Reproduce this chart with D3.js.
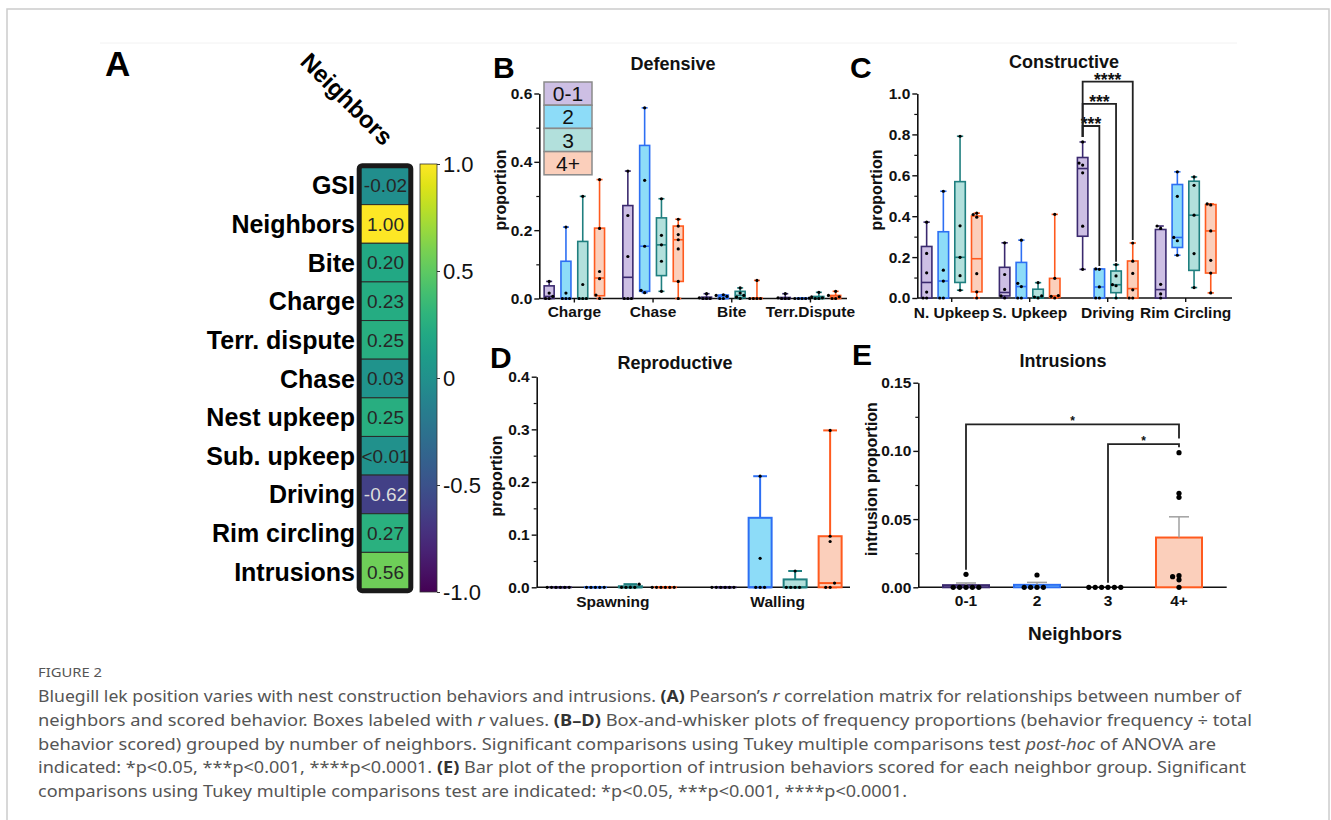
<!DOCTYPE html>
<html>
<head>
<meta charset="utf-8">
<script src="https://cdn.jsdelivr.net/npm/d3@7"></script>
<style>
  body { margin: 0; background: #fff; }
  svg text { font-family: "Liberation Sans", Arial, sans-serif; }
  svg text.cap { font-family: "Noto Sans", "Open Sans", sans-serif; }
</style>
</head>
<body>
<svg id="fig" width="1331" height="820"></svg>
<script>
// ---------- data ----------
var groupNames = ["0-1", "2", "3", "4+"];

var heatLabels = ["GSI", "Neighbors", "Bite", "Charge", "Terr. dispute", "Chase",
  "Nest upkeep", "Sub. upkeep", "Driving", "Rim circling", "Intrusions"];
var heatValues = [-0.02, 1.00, 0.20, 0.23, 0.25, 0.03, 0.25, 0.005, -0.62, 0.27, 0.56];
var heatText = ["-0.02", "1.00", "0.20", "0.23", "0.25", "0.03", "0.25", "<0.01", "-0.62", "0.27", "0.56"];
var cbTicks = [1, 0.5, 0, -0.5, -1];

// box stats per category and group: [min, q1, median, q3, max]
var defCats = ["Charge", "Chase", "Bite", "Terr.Dispute"];
var defStats = [
  [[0, 0, 0.006, 0.037, 0.05], [0, 0, 0, 0.109, 0.209], [0, 0, 0, 0.167, 0.299], [0, 0.008, 0.06, 0.206, 0.348]],
  [[0, 0, 0.062, 0.272, 0.373], [0.017, 0.021, 0.153, 0.448, 0.558], [0.021, 0.067, 0.157, 0.236, 0.292], [0, 0.05, 0.172, 0.212, 0.232]],
  [[0, 0, 0, 0.004, 0.014], [0, 0, 0.006, 0.01, 0.011], [0, 0.002, 0.009, 0.021, 0.031], [0, 0, 0, 0.002, 0.053]],
  [[0, 0, 0, 0.003, 0.014], [0, 0, 0, 0.001, 0.001], [0, 0, 0.002, 0.006, 0.018], [0, 0, 0.004, 0.009, 0.021]]
];
var defPoints = [
  [[0, 0, 0.006, 0.016, 0.05], [0, 0, 0, 0.016, 0.209], [0, 0, 0, 0.041, 0.299], [0, 0.01, 0.058, 0.079, 0.205, 0.348]],
  [[0, 0, 0, 0.123, 0.243, 0.373], [0.017, 0.024, 0.153, 0.346, 0.558], [0.021, 0.109, 0.157, 0.185, 0.292], [0, 0.05, 0.145, 0.172, 0.187, 0.212, 0.232]],
  [[0, 0, 0, 0.002, 0.014], [0, 0, 0.006, 0.009, 0.011], [0, 0.004, 0.009, 0.016, 0.031], [0, 0, 0, 0, 0.053]],
  [[0, 0, 0, 0.002, 0.014], [0, 0, 0, 0, 0.001], [0, 0, 0.002, 0.005, 0.018], [0, 0, 0.005, 0.009, 0.021]]
];

var conCats = ["N. Upkeep", "S. Upkeep", "Driving", "Rim Circling"];
var conStats = [
  [[0, 0, 0.076, 0.252, 0.371], [0, 0, 0.083, 0.324, 0.522], [0.038, 0.076, 0.199, 0.569, 0.791], [0, 0.03, 0.192, 0.401, 0.415]],
  [[0, 0.01, 0.027, 0.15, 0.27], [0, 0, 0.056, 0.174, 0.283], [0, 0, 0.005, 0.043, 0.075], [0, 0.003, 0.01, 0.096, 0.409]],
  [[0.14, 0.302, 0.633, 0.687, 0.763], [0, 0, 0.054, 0.142, 0.142], [0, 0.026, 0.065, 0.132, 0.163], [0, 0, 0.046, 0.181, 0.269]],
  [[0, 0, 0.041, 0.335, 0.352], [0.209, 0.247, 0.296, 0.555, 0.617], [0.051, 0.135, 0.405, 0.571, 0.592], [0.025, 0.122, 0.328, 0.457, 0.46]]
];
var conPoints = [
  [[0, 0, 0.029, 0.123, 0.218, 0.371], [0, 0, 0.083, 0.136, 0.522], [0.038, 0.109, 0.199, 0.353, 0.791], [0, 0.03, 0.119, 0.395, 0.408, 0.415]],
  [[0, 0.01, 0.042, 0.115, 0.27], [0, 0, 0.056, 0.072, 0.283], [0, 0.005, 0.01, 0.075], [0, 0.008, 0.012, 0.096, 0.409]],
  [[0.14, 0.351, 0.612, 0.65, 0.66, 0.763], [0, 0, 0.054, 0.14, 0.142], [0, 0.06, 0.065, 0.108, 0.163], [0, 0, 0.04, 0.12, 0.18, 0.269]],
  [[0, 0.02, 0.067, 0.34, 0.352], [0.209, 0.28, 0.296, 0.497, 0.617], [0.051, 0.217, 0.405, 0.551, 0.592], [0.025, 0.122, 0.184, 0.328, 0.455, 0.46]]
];
// Tukey comparisons drawn in C: category, group vs 0-1, label, bracket height
var conSig = [
  { cat: "Driving", grp: "2", label: "***", h: 0.841 },
  { cat: "Driving", grp: "3", label: "***", h: 0.949 },
  { cat: "Driving", grp: "4+", label: "****", h: 1.058 }
];

var repCats = ["Spawning", "Walling"];
var repStats = [
  [[0, 0, 0, 0, 0], [0, 0, 0, 0, 0], [0, 0, 0, 0.002, 0.006], [0, 0, 0, 0, 0]],
  [[0, 0, 0, 0, 0], [0, 0, 0, 0.132, 0.211], [0, 0, 0, 0.015, 0.031], [0, 0, 0.008, 0.097, 0.298]]
];
var repPoints = [
  [[0, 0, 0, 0, 0, 0], [0, 0, 0, 0, 0], [0, 0, 0, 0, 0.006], [0, 0, 0, 0, 0, 0]],
  [[0, 0, 0, 0, 0, 0], [0, 0, 0, 0.055, 0.211], [0, 0, 0, 0, 0.031], [0, 0, 0.008, 0.087, 0.097, 0.298]]
];

var intPoints = [
  [0.0095, 0, 0, 0, 0, 0],
  [0.009, 0, 0, 0, 0],
  [0, 0, 0, 0, 0, 0],
  [0.0987, 0.0689, 0.066, 0.0085, 0.0078, 0.0055, 0]
];
// left group, right group, label, bracket height, right leg end
var intSig = [
  { a: "0-1", b: "4+", label: "*", h: 0.1195, end: 0.109 },
  { a: "3", b: "4+", label: "*", h: 0.105, end: 0.1026 }
];

var fills = ["#cdbfe4", "#8ddcf8", "#b2e0dc", "#fbcfbb"];
var strokes = ["#3b2a6f", "#2d6ff3", "#1f7f7f", "#ff5a1e"];

var svg = d3.select("#fig");

// page frame
svg.append("rect").attr("x", 7).attr("y", 9).attr("width", 1322).attr("height", 840)
  .attr("fill", "none").attr("stroke", "#cccccc").attr("stroke-width", 1.5);
svg.append("line").attr("x1", 100).attr("x2", 1237).attr("y1", 43).attr("y2", 43)
  .attr("stroke", "#f2f2f2").attr("stroke-width", 1);

function panelLetter(t, x, y, fs) {
  svg.append("text").attr("x", x).attr("y", y).text(t)
    .style("font-size", fs + "px").style("font-weight", "bold").attr("fill", "#000");
}
function title(t, x, y) {
  svg.append("text").attr("x", x).attr("y", y).attr("text-anchor", "middle").text(t)
    .style("font-size", "18px").style("font-weight", "bold").attr("fill", "#111");
}
function yLabel(t, x, y) {
  svg.append("text").attr("transform", "translate(" + x + "," + y + ") rotate(-90)")
    .attr("text-anchor", "middle").text(t)
    .style("font-size", "16px").style("font-weight", "bold").attr("fill", "#111");
}

// ---------- A: correlation column ----------
var rowY = d3.scaleBand().domain(heatLabels).range([166, 591]);
var vir = d3.scaleSequential(d3.interpolateViridis).domain([-1, 1]);
var gA = svg.append("g");

gA.selectAll("rect.cell").data(heatValues).enter().append("rect")
  .attr("class", "cell")
  .attr("x", 359).attr("width", 52)
  .attr("y", function (d, i) { return rowY(heatLabels[i]); })
  .attr("height", rowY.bandwidth())
  .attr("fill", function (d) { return vir(d); })
  .attr("stroke", "#2a2a2a").attr("stroke-width", 1);

gA.append("rect").attr("x", 359.2).attr("y", 165.7).attr("width", 51.6).attr("height", 425)
  .attr("rx", 3).attr("fill", "none").attr("stroke", "#1a1a1a").attr("stroke-width", 5);

gA.selectAll("text.val").data(heatText).enter().append("text")
  .attr("class", "val")
  .attr("x", 385.5)
  .attr("y", function (d, i) { return rowY(heatLabels[i]) + rowY.bandwidth() / 2; })
  .attr("dy", "0.36em").attr("text-anchor", "middle")
  .style("font-size", "19px")
  .attr("fill", function (d, i) { return heatValues[i] < -0.4 ? "#dcdcdc" : "#262626"; })
  .text(function (d) { return d; });

gA.selectAll("text.row").data(heatLabels).enter().append("text")
  .attr("class", "row")
  .attr("x", 355)
  .attr("y", function (d) { return rowY(d) + rowY.bandwidth() / 2; })
  .attr("dy", "0.36em").attr("text-anchor", "end")
  .style("font-size", "25px").style("font-weight", "bold").attr("fill", "#000")
  .text(function (d) { return d; });

gA.append("text").attr("transform", "translate(347,99) rotate(45)")
  .attr("text-anchor", "middle").attr("dy", "0.35em")
  .style("font-size", "24px").style("font-weight", "bold").attr("fill", "#000")
  .text("Neighbors");

// colour bar
var grad = svg.append("defs").append("linearGradient").attr("id", "vgrad")
  .attr("x1", 0).attr("x2", 0).attr("y1", 1).attr("y2", 0);
grad.selectAll("stop").data(d3.range(0, 1.0001, 0.05)).enter().append("stop")
  .attr("offset", function (d) { return d; })
  .attr("stop-color", function (d) { return d3.interpolateViridis(d); });
var cbY = d3.scaleLinear().domain([-1, 1]).range([592, 164]);
gA.append("rect").attr("x", 420).attr("y", cbY(1)).attr("width", 17).attr("height", cbY(-1) - cbY(1))
  .attr("fill", "url(#vgrad)").attr("stroke", "#333").attr("stroke-width", 0.8);
var cbAx = gA.append("g").attr("transform", "translate(437,0)")
  .call(d3.axisRight(cbY).tickValues(cbTicks).tickSize(3).tickPadding(3)
    .tickFormat(function (d) { return d === 0 ? "0" : d3.format(".1f")(d).replace("\u2212", "-"); }));
cbAx.select(".domain").remove();
cbAx.selectAll(".tick line").attr("stroke", "#333");
cbAx.selectAll(".tick text").style("font-size", "22px").attr("fill", "#111");

panelLetter("A", 105, 76, 35);

// ---------- shared helpers ----------
// step = horizontal spacing of tied dots, near = vertical distance under which dots count as tied
function swarm(vals, y, step, near) {
  var placed = [];
  var offs = [0];
  for (var j = 1; j < 12; j++) offs.push(-j * step, j * step);
  return vals.slice().sort(d3.ascending).map(function (v) {
    var py = y(v), off = 0;
    for (var i = 0; i < offs.length; i++) {
      off = offs[i];
      var hit = placed.some(function (p) {
        return Math.abs(p.py - py) < near && Math.abs(p.dx - off) < step - 0.01;
      });
      if (!hit) break;
    }
    placed.push({ dx: off, py: py });
    return { dx: off, py: py };
  });
}

function yAxis(g, y, x0, majors, minors, fmt) {
  var ax = g.append("g").attr("transform", "translate(" + x0 + ",0)")
    .call(d3.axisLeft(y).tickValues(majors).tickSize(5).tickPadding(2).tickSizeOuter(0).tickFormat(fmt));
  ax.select(".domain").attr("stroke", "#111").attr("stroke-width", 1.6);
  ax.selectAll(".tick line").attr("stroke", "#111").attr("stroke-width", 1.4);
  ax.selectAll(".tick text").attr("fill", "#111").style("font-size", "15.5px").style("font-weight", "bold");
  var mn = g.append("g").attr("transform", "translate(" + x0 + ",0)")
    .call(d3.axisLeft(y).tickValues(minors).tickSize(3).tickFormat(""));
  mn.select(".domain").remove();
  mn.selectAll(".tick line").attr("stroke", "#111").attr("stroke-width", 1.2);
}

// spacing = distance between neighbouring boxes inside a category
function boxPanel(opt) {
  var g = svg.append("g");
  var x = d3.scaleBand().domain(opt.cats).range(opt.xr);
  var xi = d3.scaleBand().domain(groupNames).range([-2 * opt.spacing, 2 * opt.spacing]);
  var y = d3.scaleLinear().domain([0, opt.ymax]).range(opt.yr);
  var cx = function (cat, grp) { return x(cat) + x.bandwidth() / 2 + xi(grp) + xi.bandwidth() / 2; };

  g.append("line").attr("x1", opt.ax).attr("x2", opt.xEnd).attr("y1", y(0)).attr("y2", y(0))
    .attr("stroke", "#111").attr("stroke-width", 1.6);
  if (opt.xticks) {
    g.selectAll("line.xt").data(opt.cats).enter().append("line")
      .attr("x1", function (d) { return x(d) + x.bandwidth() / 2; })
      .attr("x2", function (d) { return x(d) + x.bandwidth() / 2; })
      .attr("y1", y(0)).attr("y2", y(0) + 4).attr("stroke", "#111").attr("stroke-width", 1.4);
  }
  yAxis(g, y, opt.ax, opt.majors, opt.minors, d3.format(".1f"));

  var boxes = [];
  opt.cats.forEach(function (c, ci) {
    groupNames.forEach(function (gn, gi) {
      boxes.push({ cat: c, grp: gn, gi: gi, s: opt.stats[ci][gi], pts: opt.points[ci][gi] });
    });
  });

  var w = opt.boxW, cap = opt.boxW * 0.6;
  g.selectAll("g.box").data(boxes).enter().append("g").attr("class", "box")
    .each(function (d) {
      var bg = d3.select(this), xc = cx(d.cat, d.grp), col = strokes[d.gi], s = d.s;
      bg.append("line").attr("x1", xc).attr("x2", xc).attr("y1", y(s[0])).attr("y2", y(s[1]))
        .attr("stroke", col).attr("stroke-width", opt.sw);
      bg.append("line").attr("x1", xc).attr("x2", xc).attr("y1", y(s[3])).attr("y2", y(s[4]))
        .attr("stroke", col).attr("stroke-width", opt.sw);
      [s[0], s[4]].forEach(function (v) {
        bg.append("line").attr("x1", xc - cap / 2).attr("x2", xc + cap / 2).attr("y1", y(v)).attr("y2", y(v))
          .attr("stroke", col).attr("stroke-width", opt.sw);
      });
      bg.append("rect").attr("x", xc - w / 2).attr("width", w)
        .attr("y", y(s[3])).attr("height", Math.max(0, y(s[1]) - y(s[3])))
        .attr("fill", fills[d.gi]).attr("stroke", col).attr("stroke-width", opt.sw);
      bg.append("line").attr("x1", xc - w / 2).attr("x2", xc + w / 2).attr("y1", y(s[2])).attr("y2", y(s[2]))
        .attr("stroke", col).attr("stroke-width", opt.sw);
      bg.selectAll("circle").data(swarm(d.pts, y, opt.dotStep, opt.dotStep)).enter().append("circle")
        .attr("cx", function (p) { return xc + p.dx; })
        .attr("cy", function (p) { return p.py; })
        .attr("r", 1.6).attr("fill", "#000");
    });

  g.selectAll("text.cat").data(opt.cats).enter().append("text")
    .attr("class", "cat")
    .attr("x", function (d) { return x(d) + x.bandwidth() / 2; })
    .attr("y", opt.catY).attr("text-anchor", "middle")
    .style("font-size", "15.5px").style("font-weight", "bold").attr("fill", "#111")
    .text(function (d) { return d; });

  return { g: g, x: x, y: y, cx: cx };
}

// ---------- B: Defensive ----------
boxPanel({
  cats: defCats, stats: defStats, points: defPoints,
  xr: [535, 849.8], spacing: 16.8, ymax: 0.6, yr: [298.5, 93.5],
  ax: 539.3, xEnd: 847, xticks: true, boxW: 10, sw: 1.6, dotStep: 3.6,
  majors: [0, 0.2, 0.4, 0.6], minors: [0.1, 0.3, 0.5], catY: 316.5
});
panelLetter("B", 493, 78, 30);
title("Defensive", 673, 70);
yLabel("proportion", 506, 190);

// legend
var leg = svg.append("g");
var legY = d3.scaleBand().domain(groupNames).range([82, 174.8]);
leg.selectAll("rect").data(groupNames).enter().append("rect")
  .attr("x", 544).attr("width", 48)
  .attr("y", function (d) { return legY(d); }).attr("height", legY.bandwidth())
  .attr("fill", function (d, i) { return fills[i]; })
  .attr("stroke", "#8a8a8a").attr("stroke-width", 1.5);
leg.selectAll("text").data(groupNames).enter().append("text")
  .attr("x", 568).attr("y", function (d) { return legY(d) + legY.bandwidth() / 2; })
  .attr("dy", "0.36em").attr("text-anchor", "middle")
  .style("font-size", "21px").attr("fill", "#111")
  .text(function (d) { return d; });

// ---------- C: Constructive ----------
var pc = boxPanel({
  cats: conCats, stats: conStats, points: conPoints,
  xr: [912.7, 1224.7], spacing: 16.7, ymax: 1.0, yr: [298, 93.5],
  ax: 917.3, xEnd: 1232, xticks: true, boxW: 10.5, sw: 1.6, dotStep: 3.6,
  majors: [0, 0.2, 0.4, 0.6, 0.8, 1.0], minors: [0.1, 0.3, 0.5, 0.7, 0.9], catY: 317.5
});
panelLetter("C", 850, 78, 30);
title("Constructive", 1064, 68);
yLabel("proportion", 881.5, 190);

pc.g.selectAll("g.sig").data(conSig).enter().append("g").attr("class", "sig")
  .each(function (d) {
    var ci = conCats.indexOf(d.cat), gi = groupNames.indexOf(d.grp);
    var lx = pc.cx(d.cat, "0-1"), rx = pc.cx(d.cat, d.grp), ly = pc.y(d.h);
    var lb = pc.y(conStats[ci][0][4]) - 5, rb = pc.y(conStats[ci][gi][4]) - 3;
    d3.select(this).append("path")
      .attr("d", "M" + lx + "," + lb + "V" + ly + "H" + rx + "V" + rb)
      .attr("fill", "none").attr("stroke", "#222").attr("stroke-width", 1.8);
    d3.select(this).append("text").attr("x", (lx + rx) / 2).attr("y", ly + 4)
      .attr("text-anchor", "middle").style("font-size", "17.5px").style("font-weight", "bold")
      .attr("fill", "#111").text(d.label);
  });

// ---------- D: Reproductive ----------
boxPanel({
  cats: repCats, stats: repStats, points: repPoints,
  xr: [530.5, 860], spacing: 35, ymax: 0.4, yr: [587.3, 376.7],
  ax: 536.7, xEnd: 850, xticks: false, boxW: 23, sw: 2, dotStep: 4.4,
  majors: [0, 0.1, 0.2, 0.3, 0.4], minors: [0.05, 0.15, 0.25, 0.35], catY: 606.5
});
panelLetter("D", 490, 368, 30);
title("Reproductive", 675, 369);
yLabel("proportion", 501.5, 476);

// ---------- E: Intrusions ----------
var gE = svg.append("g");
var xE = d3.scaleBand().domain(groupNames).range([930.5, 1214.5]);
var yE = d3.scaleLinear().domain([0, 0.15]).range([587.3, 382.7]);
var ex = function (g) { return xE(g) + xE.bandwidth() / 2; };

gE.append("line").attr("x1", 918.3).attr("x2", 1226.7).attr("y1", yE(0)).attr("y2", yE(0))
  .attr("stroke", "#111").attr("stroke-width", 1.6);
yAxis(gE, yE, 918.3, [0, 0.05, 0.1, 0.15], [0.025, 0.075, 0.125], d3.format(".2f"));

var bars = groupNames.map(function (gname, i) {
  var v = intPoints[i];
  return { grp: gname, gi: i, mean: d3.mean(v), sem: d3.deviation(v) / Math.sqrt(v.length), pts: v };
});
var barW = 46;
gE.selectAll("rect.bar").data(bars.filter(function (d) { return d.mean > 0; })).enter().append("rect")
  .attr("class", "bar")
  .attr("x", function (d) { return ex(d.grp) - barW / 2; }).attr("width", barW)
  .attr("y", function (d) { return yE(d.mean); })
  .attr("height", function (d) { return yE(0) - yE(d.mean); })
  .attr("fill", function (d) { return fills[d.gi]; })
  .attr("stroke", function (d) { return strokes[d.gi]; }).attr("stroke-width", 2);
var eb = gE.selectAll("g.err").data(bars.filter(function (d) { return d.sem > 0; })).enter().append("g");
eb.append("line")
  .attr("x1", function (d) { return ex(d.grp); }).attr("x2", function (d) { return ex(d.grp); })
  .attr("y1", function (d) { return yE(d.mean); }).attr("y2", function (d) { return yE(d.mean + d.sem); })
  .attr("stroke", "#a0a0a0").attr("stroke-width", 1.5);
eb.append("line")
  .attr("x1", function (d) { return ex(d.grp) - 10; }).attr("x2", function (d) { return ex(d.grp) + 10; })
  .attr("y1", function (d) { return yE(d.mean + d.sem); }).attr("y2", function (d) { return yE(d.mean + d.sem); })
  .attr("stroke", "#a0a0a0").attr("stroke-width", 1.5);

gE.selectAll("g.dots").data(bars).enter().append("g")
  .each(function (d) {
    var xc = ex(d.grp);
    d3.select(this).selectAll("circle").data(swarm(d.pts, yE, 6.4, 3.5)).enter().append("circle")
      .attr("cx", function (p) { return xc + p.dx; })
      .attr("cy", function (p) { return p.py; })
      .attr("r", 2.6).attr("fill", "#000");
  });

gE.selectAll("g.sig").data(intSig).enter().append("g")
  .each(function (d) {
    var lx = ex(d.a), rx = ex(d.b), ly = yE(d.h);
    var lb = yE(d3.max(intPoints[groupNames.indexOf(d.a)])) - 4.5, rb = yE(d.end);
    d3.select(this).append("path")
      .attr("d", "M" + lx + "," + lb + "V" + ly + "H" + rx + "V" + rb)
      .attr("fill", "none").attr("stroke", "#222").attr("stroke-width", 1.8);
    d3.select(this).append("text").attr("x", (lx + rx) / 2).attr("y", ly + 1)
      .attr("text-anchor", "middle").style("font-size", "12px").style("font-weight", "bold")
      .attr("fill", "#111").text(d.label);
  });

gE.selectAll("text.cat").data(groupNames).enter().append("text")
  .attr("x", function (d) { return ex(d); }).attr("y", 606)
  .attr("text-anchor", "middle").style("font-size", "15.5px").style("font-weight", "bold")
  .attr("fill", "#111").text(function (d) { return d; });
gE.append("text").attr("x", 1075).attr("y", 640).attr("text-anchor", "middle")
  .style("font-size", "19px").style("font-weight", "bold").attr("fill", "#111").text("Neighbors");
panelLetter("E", 852, 365, 30);
title("Intrusions", 1063, 367.3);
yLabel("intrusion proportion", 877, 479);

// ---------- caption ----------
var captionLines = [
  [["Bluegill lek position varies with nest construction behaviors and intrusions. ", ""], ["(A)", "b"],
   [" Pearson\u2019s ", ""], ["r", "i"], [" correlation matrix for relationships between number of", ""]],
  [["neighbors and scored behavior. Boxes labeled with ", ""], ["r", "i"], [" values. ", ""], ["(B\u2013D)", "b"],
   [" Box-and-whisker plots of frequency proportions (behavior frequency \u00f7 total", ""]],
  [["behavior scored) grouped by number of neighbors. Significant comparisons using Tukey multiple comparisons test ", ""],
   ["post-hoc", "i"], [" of ANOVA are", ""]],
  [["indicated: *p<0.05, ***p<0.001, ****p<0.0001. ", ""], ["(E)", "b"],
   [" Bar plot of the proportion of intrusion behaviors scored for each neighbor group. Significant", ""]],
  [["comparisons using Tukey multiple comparisons test are indicated: *p<0.05, ***p<0.001, ****p<0.0001.", ""]]
];
var captionWidths = [1203, 1214, 1178, 1208, 869];

svg.append("text").attr("class", "cap").attr("x", 38).attr("y", 677)
  .attr("textLength", 64).attr("lengthAdjust", "spacingAndGlyphs")
  .style("font-size", "13px").attr("fill", "#555").text("FIGURE 2");

var capG = svg.append("g");
capG.selectAll("text").data(captionLines).enter().append("text")
  .attr("class", "cap")
  .attr("x", 38).attr("y", function (d, i) { return 702 + i * 23.8; })
  .attr("textLength", function (d, i) { return captionWidths[i]; })
  .attr("lengthAdjust", "spacingAndGlyphs")
  .style("font-size", "15.5px").attr("fill", "#555")
  .each(function (parts) {
    d3.select(this).selectAll("tspan").data(parts).enter().append("tspan")
      .style("font-weight", function (p) { return p[1] === "b" ? "bold" : null; })
      .style("font-style", function (p) { return p[1] === "i" ? "italic" : null; })
      .attr("fill", function (p) { return p[1] === "b" ? "#333" : null; })
      .text(function (p) { return p[0]; });
  });
</script>
</body>
</html>
